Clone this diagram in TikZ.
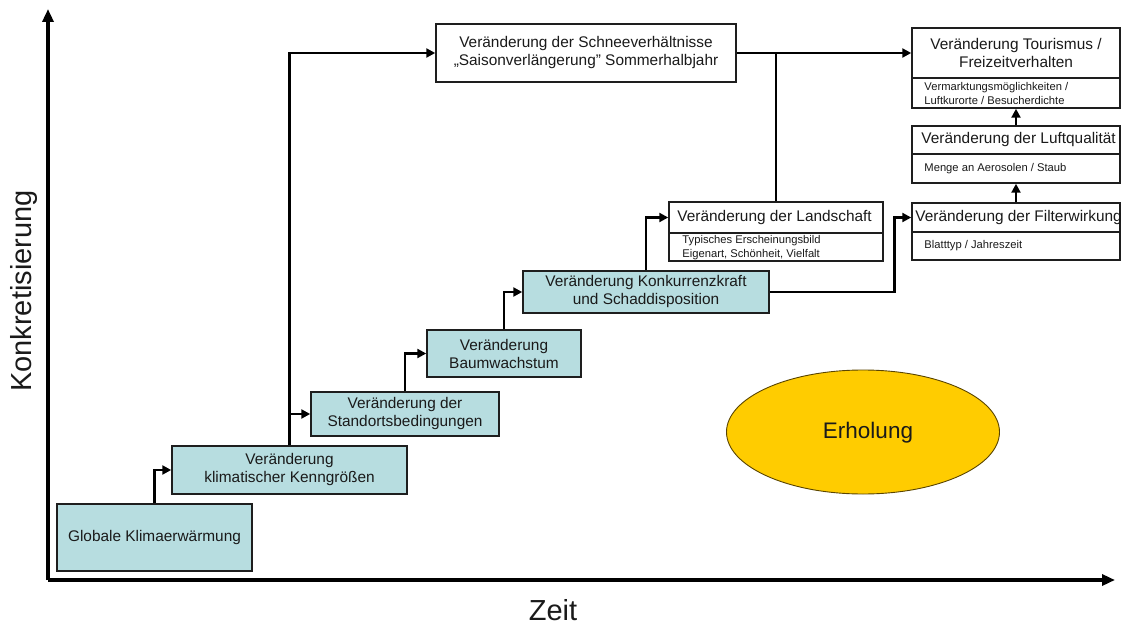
\documentclass[tikz,border=0pt]{standalone}
\usepackage{fontspec}
\setmainfont{Liberation Sans}
\usetikzlibrary{arrows.meta,shapes.geometric}

\definecolor{boxcyan}{HTML}{B7DDE0}
\definecolor{boxline}{HTML}{1E1E1E}
\definecolor{sunyellow}{HTML}{FFCC00}
\definecolor{ovalline}{HTML}{5A4500}
\definecolor{ink}{HTML}{1A1A1A}

\tikzset{
  x=1pt, y=-1pt,
  every node/.style={text=ink},
  bigtext/.style={font=\fontsize{15.4}{18}\selectfont},
  smalltext/.style={font=\fontsize{11.2}{14}\selectfont},
  stagebox/.style={draw=boxline, line width=1.5pt, fill=boxcyan, inner sep=0pt,
    align=center, bigtext},
  whitebox/.style={draw=boxline, line width=1.5pt, fill=white, inner sep=0pt,
    align=center, bigtext},
  boxtitle/.style={inner sep=0pt, anchor=west, bigtext},
  boxnote/.style={inner sep=0pt, anchor=west, align=left, smalltext},
  conn/.style={draw=black, line width=2.8pt,
    -{Triangle[length=9pt,width=9pt]}},
  plainconn/.style={draw=black, line width=2.8pt},
  axis/.style={draw=black, line width=3.6pt,
    -{Triangle[length=13pt,width=11pt]}},
  axislabel/.style={inner sep=0pt, font=\fontsize{29}{32}\selectfont}
}

\begin{document}
\begin{tikzpicture}
\useasboundingbox (0,0) rectangle (1121,628);

% axes
\coordinate (origin) at (48,580);
\coordinate (ytip) at (48,9);
\coordinate (xtip) at (1115,580);
\draw[axis] (origin) -- (ytip);
\draw[axis] (origin) -- (xtip);
\node[axislabel, rotate=90] (ylab) at (24,291) {Konkretisierung};
\node[axislabel] (xlab) at (553,610) {Zeit};

% staircase of causes
\node[stagebox, minimum width=195pt, minimum height=67pt] (glob) at (154.5,537.5)
  {Globale Klimaerwärmung};
\node[stagebox, minimum width=235pt, minimum height=48pt] (klim) at (289.5,470)
  {Veränderung\\klimatischer Kenngrößen};
\node[stagebox, minimum width=188pt, minimum height=44pt] (stand) at (405,414)
  {Veränderung der\\Standortsbedingungen};
\node[stagebox, minimum width=154pt, minimum height=47pt] (baum) at (504,353.5)
  {Veränderung\\Baumwachstum};
\node[stagebox, minimum width=246pt, minimum height=42pt] (konk) at (646,292)
  {Veränderung Konkurrenzkraft\\und Schaddisposition};

% snow box
\node[whitebox, minimum width=300pt, minimum height=58pt] (schnee) at (586,53)
  {Veränderung der Schneeverhältnisse\\„Saisonverlängerung" Sommerhalbjahr};

% landscape box
\node[whitebox, minimum width=214pt, minimum height=31pt] (land) at (776,217.5) {};
\node[whitebox, minimum width=214pt, minimum height=28pt] (landdet) at (776,247) {};
\node[boxtitle] (landT) at ([xshift=9pt]land.west) {Veränderung der Landschaft};
\node[boxnote] (landN) at ([xshift=14pt,yshift=-0.5pt]landdet.west)
  {Typisches Erscheinungsbild\\Eigenart, Schönheit, Vielfalt};

% right column
\node[whitebox, minimum width=208pt, minimum height=50pt] (tour) at (1016,53)
  {Veränderung Tourismus /\\Freizeitverhalten};
\node[whitebox, minimum width=208pt, minimum height=30pt] (tourdet) at (1016,93) {};
\node[boxnote] (tourN) at ([xshift=13pt]tourdet.west)
  {Vermarktungsmöglichkeiten /\\Luftkurorte / Besucherdichte};

\node[whitebox, minimum width=208pt, minimum height=28pt] (luft) at (1016,140) {};
\node[whitebox, minimum width=208pt, minimum height=29pt] (luftdet) at (1016,168.5) {};
\node[boxtitle] (luftT) at ([xshift=10pt]luft.west) {Veränderung der Luftqualität};
\node[boxnote] (luftN) at ([xshift=13pt]luftdet.west) {Menge an Aerosolen / Staub};

\node[whitebox, minimum width=208pt, minimum height=29pt] (filt) at (1016,217.5) {};
\node[whitebox, minimum width=208pt, minimum height=28pt] (filtdet) at (1016,246) {};
\node[boxtitle] (filtT) at ([xshift=4pt]filt.west) {Veränderung der Filterwirkung};
\node[boxnote] (filtN) at ([xshift=13pt]filtdet.west) {Blatttyp / Jahreszeit};

% recreation
\node[ellipse, draw=ovalline, line width=0.9pt, fill=sunyellow,
  minimum width=273pt, minimum height=124pt, inner sep=0pt] (erh) at (863,432) {};
\node[inner sep=0pt, font=\fontsize{22.5}{26}\selectfont] (erhT) at (868,433) {Erholung};

% connectors
\draw[conn] (glob.north) |- (klim.west);
\draw[conn] (klim.north) |- (stand.west);
\draw[conn] (klim.north) |- (schnee.west);
\draw[conn] (stand.north) |- (baum.west);
\draw[conn] (baum.north) |- (konk.west);
\draw[conn] (konk.north) |- (land.west);
\draw[conn] (schnee.east) -- (tour.west);
\draw[plainconn] (land.north) -- (land.north |- schnee.east);
\draw[conn] (konk.east) -| ([xshift=-17pt]filt.west) -- (filt.west);
\draw[conn] (filt.north) -- (luftdet.south);
\draw[conn] (luft.north) -- (tourdet.south);
\end{tikzpicture}
\end{document}
